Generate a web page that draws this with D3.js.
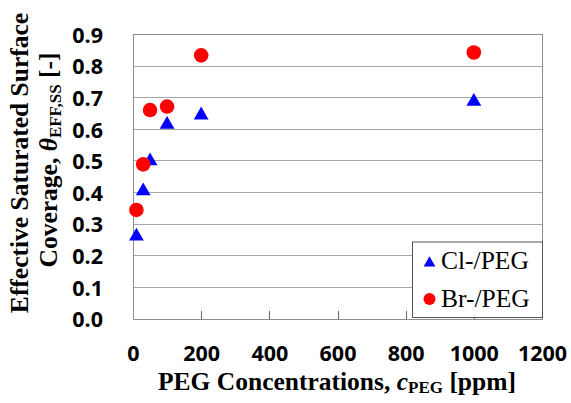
<!DOCTYPE html>
<html><head><meta charset="utf-8">
<script src="https://cdn.jsdelivr.net/npm/d3@7"></script>
<style>body{margin:0;background:#fff}svg{display:block}</style>
</head><body>
<svg id="c" width="571" height="403"></svg>
<script>
const clX = [10, 30, 50, 100, 200, 1000];
const clY = [0.262, 0.405, 0.50, 0.615, 0.645, 0.688];
const brX = [10, 30, 50, 100, 200, 1000];
const brY = [0.345, 0.489, 0.661, 0.672, 0.834, 0.843];
const xTicks = [0, 200, 400, 600, 800, 1000, 1200];
const yTicks = [0, 0.1, 0.2, 0.3, 0.4, 0.5, 0.6, 0.7, 0.8, 0.9];
const seriesNames = ["Cl-/PEG", "Br-/PEG"];

const svg = d3.select("#c");
const L = 133, R = 542, T = 34.5, B = 319;
const x = d3.scaleLinear().domain([0, 1200]).range([L, R]);
const y = d3.scaleLinear().domain([0, 0.9]).range([B, T]);
const tickFont = "'Open Sans', sans-serif";
const serif = "'Liberation Serif', 'Times New Roman', serif";

// gridlines
svg.append("g").selectAll("line").data(yTicks).join("line")
  .attr("x1", L).attr("x2", R).attr("y1", d => y(d)).attr("y2", d => y(d))
  .attr("stroke", "#a6a6a6").attr("stroke-width", 1).attr("shape-rendering", "crispEdges");
// frame
svg.append("rect").attr("x", L).attr("y", T).attr("width", R - L).attr("height", B - T)
  .attr("fill", "none").attr("stroke", "#8c8c8c").attr("stroke-width", 1).attr("shape-rendering", "crispEdges");

// x axis ticks (inward)
const xAxis = d3.axisBottom(x).tickValues(xTicks).tickSize(-8).tickPadding(24).tickFormat(d3.format("d"));
const gx = svg.append("g").attr("transform", `translate(0,${B})`).call(xAxis);
gx.select(".domain").remove();
gx.selectAll(".tick line").attr("stroke", "#666").attr("shape-rendering", "crispEdges")
  .filter(d => d === 0 || d === 1200).remove();
gx.selectAll(".tick text").attr("font-family", tickFont).attr("font-weight", "bold")
  .attr("font-size", 21.5).attr("fill", "#000").attr("dy", null).attr("y", 41.5);

// y axis labels
const yAxis = d3.axisLeft(y).tickValues(yTicks).tickSize(0).tickPadding(30).tickFormat(d3.format(".1f"));
const gy = svg.append("g").attr("transform", `translate(${L},0)`).call(yAxis);
gy.select(".domain").remove();
gy.selectAll(".tick text").attr("font-family", tickFont).attr("font-weight", "bold")
  .attr("font-size", 21.5).attr("fill", "#000").attr("dy", "0.36em");

// points
const tri = d3.symbol().type(d3.symbolTriangle).size(95);
svg.append("g").selectAll("path").data(clX.map((d, i) => [d, clY[i]])).join("path")
  .attr("d", tri).attr("transform", d => `translate(${x(d[0])},${y(d[1])})`).attr("fill", "#0000ff");
svg.append("g").selectAll("circle").data(brX.map((d, i) => [d, brY[i]])).join("circle")
  .attr("cx", d => x(d[0])).attr("cy", d => y(d[1])).attr("r", 7.3).attr("fill", "#ff0000");

// legend
const lg = svg.append("g");
lg.append("rect").attr("x", 412.5).attr("y", 242).attr("width", 130).attr("height", 75.5)
  .attr("fill", "#fff").attr("stroke", "#555").attr("stroke-width", 1);
lg.append("path").attr("d", d3.symbol().type(d3.symbolTriangle).size(60))
  .attr("transform", "translate(429.5,263)").attr("fill", "#0000ff");
lg.append("circle").attr("cx", 429.5).attr("cy", 299).attr("r", 6).attr("fill", "#ff0000");
lg.selectAll("text").data(seriesNames).join("text")
  .attr("x", 441).attr("y", (d, i) => 268.5 + i * 38.5)
  .attr("font-family", serif).attr("font-size", 25.5).attr("fill", "#000").text(d => d);

// x title
const xt = svg.append("text").attr("x", 337).attr("y", 390).attr("text-anchor", "middle")
  .attr("font-family", serif).attr("font-weight", "bold").attr("font-size", 25.5).attr("fill", "#000");
xt.append("tspan").text("PEG Concentrations, ");
xt.append("tspan").attr("font-style", "italic").text("c");
xt.append("tspan").attr("font-size", 17).attr("dy", 3).text("PEG");
xt.append("tspan").attr("dy", -3).text(" [ppm]");

// y title
const yt = svg.append("text").attr("transform", "translate(28,163) rotate(-90)").attr("text-anchor", "middle")
  .attr("font-family", serif).attr("font-weight", "bold").attr("font-size", 25.5).attr("fill", "#000");
yt.append("tspan").attr("x", 0).attr("y", 0).text("Effective Saturated Surface");
const yt2 = svg.append("text").attr("transform", "translate(57,160) rotate(-90)").attr("text-anchor", "middle")
  .attr("font-family", serif).attr("font-weight", "bold").attr("font-size", 25.5).attr("fill", "#000");
yt2.append("tspan").text("Coverage, ");
yt2.append("tspan").attr("font-style", "italic").text("θ");
yt2.append("tspan").attr("font-size", 17).attr("dy", 4).text("EFF,SS");
yt2.append("tspan").attr("dy", -4).text(" [-]");
</script>
</body></html>
